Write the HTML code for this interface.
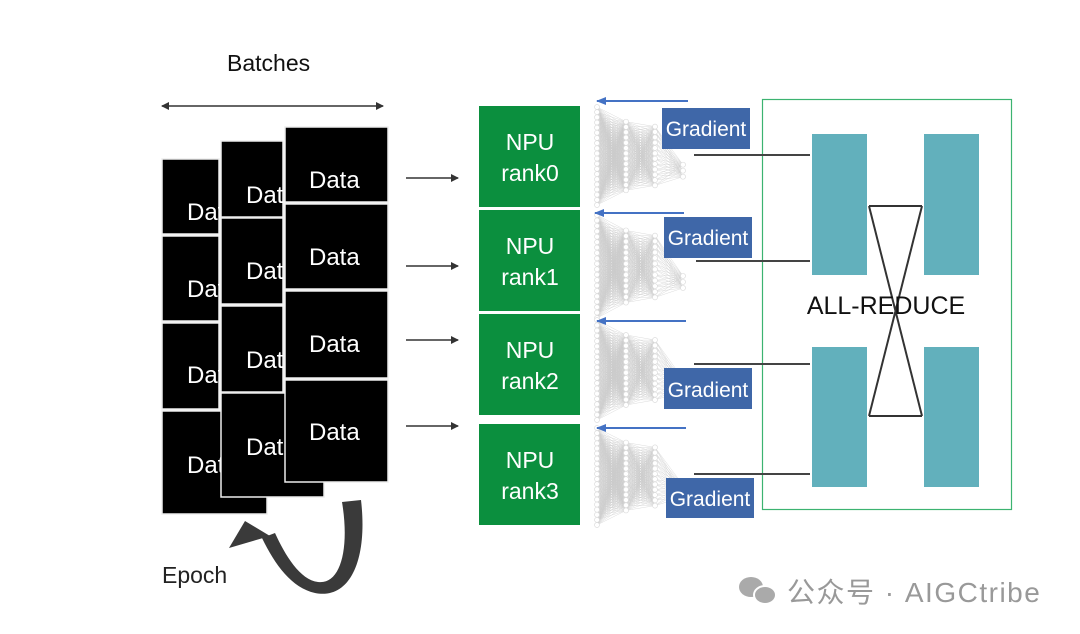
<!DOCTYPE html>
<html><head><meta charset="utf-8"><style>
html,body{margin:0;padding:0;background:#fff;width:1080px;height:634px;overflow:hidden}
svg{display:block}
text{font-family:"Liberation Sans","Noto Sans CJK SC",sans-serif}
</style></head><body>
<svg id="s" width="1080" height="634" viewBox="0 0 1080 634" xmlns="http://www.w3.org/2000/svg">
<defs>
<marker id="ah" markerWidth="8" markerHeight="8" refX="7" refY="4" orient="auto" markerUnits="userSpaceOnUse"><path d="M0,0 L8,4 L0,8 z" fill="#333"/></marker>
<marker id="ahs" markerWidth="8" markerHeight="8" refX="1" refY="4" orient="auto" markerUnits="userSpaceOnUse"><path d="M8,0 L0,4 L8,8 z" fill="#333"/></marker>
<marker id="bh" markerWidth="10" markerHeight="8" refX="9" refY="4" orient="auto" markerUnits="userSpaceOnUse"><path d="M0,0 L10,4 L0,8 z" fill="#4472c4"/></marker>
</defs>
<text x="227" y="71" font-size="23" fill="#111">Batches</text>
<line x1="162" y1="106" x2="383" y2="106" stroke="#333" stroke-width="1.5" marker-start="url(#ahs)" marker-end="url(#ah)"/>
<g id="data" stroke="#eee" stroke-width="1.5" fill="#000"></g>
<g stroke="#333" stroke-width="1.5">
<line x1="406" y1="178" x2="458" y2="178" marker-end="url(#ah)"/>
<line x1="406" y1="266" x2="458" y2="266" marker-end="url(#ah)"/>
<line x1="406" y1="340" x2="458" y2="340" marker-end="url(#ah)"/>
<line x1="406" y1="426" x2="458" y2="426" marker-end="url(#ah)"/>
</g>
<g fill="#0b8f3e">
<rect x="479" y="106" width="101" height="101"/>
<rect x="479" y="210" width="101" height="101"/>
<rect x="479" y="314" width="101" height="101"/>
<rect x="479" y="424" width="101" height="101"/>
</g>
<g fill="#fff" font-size="23" text-anchor="middle">
<text x="530" y="150">NPU</text><text x="530" y="181">rank0</text>
<text x="530" y="254">NPU</text><text x="530" y="285">rank1</text>
<text x="530" y="358">NPU</text><text x="530" y="389">rank2</text>
<text x="530" y="468">NPU</text><text x="530" y="499">rank3</text>
</g>
<g id="nets" stroke="#ccc" stroke-width="0.35" fill="none"></g>
<g stroke="#4472c4" stroke-width="2">
<line x1="688" y1="101" x2="597" y2="101" marker-end="url(#bh)"/>
<line x1="684" y1="213" x2="595" y2="213" marker-end="url(#bh)"/>
<line x1="686" y1="321" x2="597" y2="321" marker-end="url(#bh)"/>
<line x1="686" y1="428" x2="597" y2="428" marker-end="url(#bh)"/>
</g>
<g fill="#3f67a8">
<rect x="662" y="108" width="88" height="41"/>
<rect x="664" y="217" width="88" height="41"/>
<rect x="664" y="368" width="88" height="41"/>
<rect x="666" y="478" width="88" height="40"/>
</g>
<g fill="#fff" font-size="21" text-anchor="middle">
<text x="706" y="136">Gradient</text>
<text x="708" y="245">Gradient</text>
<text x="708" y="397">Gradient</text>
<text x="710" y="506">Gradient</text>
</g>
<rect x="762.5" y="99.5" width="249" height="410" fill="none" stroke="#3cb371" stroke-width="1.2"/>
<g stroke="#444" stroke-width="2">
<line x1="694" y1="155" x2="810" y2="155"/>
<line x1="696" y1="261" x2="810" y2="261"/>
<line x1="694" y1="364" x2="810" y2="364"/>
<line x1="694" y1="474" x2="810" y2="474"/>
</g>
<g fill="#62b0bc">
<rect x="812" y="134" width="55" height="141"/>
<rect x="924" y="134" width="55" height="141"/>
<rect x="812" y="347" width="55" height="140"/>
<rect x="924" y="347" width="55" height="140"/>
</g>
<g stroke="#333" stroke-width="2" fill="none">
<line x1="869" y1="206" x2="922" y2="206"/>
<line x1="869" y1="206" x2="922" y2="416"/>
<line x1="922" y1="206" x2="869" y2="416"/>
<line x1="869" y1="416" x2="922" y2="416"/>
</g>
<text x="886" y="314" font-size="25" fill="#111" text-anchor="middle">ALL-REDUCE</text>
<text x="162" y="583" font-size="23" fill="#222">Epoch</text>
<path d="M342,502 L361,500 C368,560 350,600 315,593 C292,588 275,565 262,538 L275,533 C285,555 300,580 318,582 C340,585 350,550 342,502 z" fill="#3a3a3a"/>
<polygon points="245,521 229,548 270,536" fill="#3a3a3a"/>
<g fill="#aaa">
<ellipse cx="751" cy="587" rx="12" ry="10"/>
<ellipse cx="765" cy="595" rx="11" ry="9" stroke="#fff" stroke-width="2"/>
</g>
<text x="787" y="602" font-size="28" fill="#999" letter-spacing="1.5">公众号 · AIGCtribe</text>
</svg>
<script>
var NS="http://www.w3.org/2000/svg";
function el(p,t,a,txt){var e=document.createElementNS(NS,t);for(var k in a)e.setAttribute(k,a[k]);if(txt)e.textContent=txt;p.appendChild(e);return e;}
var d=document.getElementById("data");
var cols=[
 {x:162,w:57,tx:187,rows:[[159,234,220],[236,321,297],[323,409,383],[411,514,473]],last:105},
 {x:221,w:62,tx:246,rows:[[141,217,203],[218,304,279],[306,392,368],[393,497,455]],last:103},
 {x:285,w:103,tx:309,rows:[[127,202,188],[204,289,265],[291,378,352],[380,482,440]],last:103}
];
cols.forEach(function(c){c.rows.forEach(function(r,i){
 var w=(i==3)?c.last:c.w;
 el(d,"rect",{x:c.x,y:r[0],width:w,height:r[1]-r[0]});
 el(d,"text",{x:c.tx,y:r[2],"font-size":24,fill:"#fff",stroke:"none"},"Data");
});});
var n=document.getElementById("nets");
[[107,205],[215,318],[320,420],[428,525]].forEach(function(b){
 var t=b[0],bt=b[1],h=bt-t,mid=(t+bt)/2;
 var layers=[{x:597,k:20,s:h},{x:626,k:14,s:h*0.7},{x:655,k:12,s:h*0.6},{x:683,k:3,s:12}];
 var pts=layers.map(function(L,li){var a=[];var c=(li==3)?mid+h*0.15:mid;for(var i=0;i<L.k;i++)a.push([L.x,c-L.s/2+L.s*i/(L.k-1)]);return a;});
 for(var l=0;l<3;l++)pts[l].forEach(function(p){pts[l+1].forEach(function(q){el(n,"line",{x1:p[0],y1:p[1],x2:q[0],y2:q[1]});});});
 pts.forEach(function(a){a.forEach(function(p){el(n,"circle",{cx:p[0],cy:p[1],r:2.5,stroke:"#ddd","stroke-width":0.7,fill:"#fff"});});});
});
</script>
</body></html>
